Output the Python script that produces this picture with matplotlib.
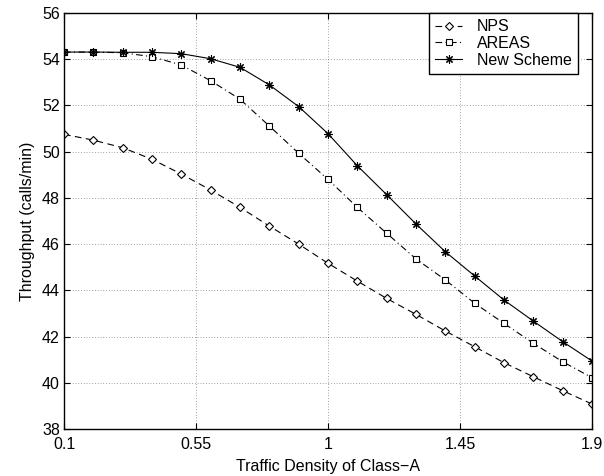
import matplotlib
matplotlib.use("Agg")
import matplotlib.pyplot as plt

plt.rcParams['font.family'] = ['Liberation Sans', 'DejaVu Sans']

density = [0.1, 0.2, 0.3, 0.4, 0.5, 0.6, 0.7, 0.8, 0.9, 1.0,
           1.1, 1.2, 1.3, 1.4, 1.5, 1.6, 1.7, 1.8, 1.9]

nps = [50.75, 50.50, 50.17, 49.67, 49.03, 48.34, 47.59, 46.78, 46.00, 45.17,
       44.40, 43.65, 42.96, 42.24, 41.56, 40.87, 40.26, 39.66, 39.08]
areas = [54.31, 54.31, 54.28, 54.11, 53.75, 53.07, 52.27, 51.11, 49.93, 48.80,
         47.59, 46.47, 45.36, 44.45, 43.44, 42.57, 41.71, 40.91, 40.22]
new_scheme = [54.31, 54.31, 54.30, 54.30, 54.24, 54.02, 53.65, 52.89, 51.95, 50.78,
              49.39, 48.14, 46.87, 45.67, 44.62, 43.58, 42.67, 41.78, 40.94]

xticks = [0.1, 0.55, 1, 1.45, 1.9]
xtick_labels = ["0.1", "0.55", "1", "1.45", "1.9"]

fs = 11.5

fig = plt.figure(figsize=(6.04, 4.76), dpi=100)
ax = fig.add_axes([64 / 604, 47 / 476, 528 / 604, 416 / 476])

ax.plot(density, nps, color='black', linestyle=(0, (6, 4)), linewidth=0.8,
        marker='D', markersize=4.5, markerfacecolor='white', markeredgewidth=0.8,
        label='NPS')
ax.plot(density, areas, color='black', linestyle=(0, (6, 3, 1, 3)), linewidth=0.8,
        marker='s', markersize=4.5, markerfacecolor='white', markeredgewidth=0.8,
        label='AREAS')
ax.plot(density, new_scheme, color='black', linestyle='-', linewidth=0.8,
        marker=(8, 2, 0), markersize=6, markeredgewidth=0.8,
        label='New Scheme')

ax.set_xlim(0.1, 1.9)
ax.set_ylim(38, 56)
ax.set_xticks(xticks)
ax.set_xticklabels(xtick_labels)
ax.set_yticks(range(38, 57, 2))
ax.tick_params(direction='in', top=True, right=True, labelsize=fs, length=4)
ax.tick_params(axis='x', pad=6)
ax.tick_params(axis='y', pad=3)
ax.grid(True, linestyle=(0, (1, 3)), color='black', linewidth=0.5, alpha=0.7)
for s in ax.spines.values():
    s.set_linewidth(1.0)

ax.set_xlabel("Traffic Density of Class\u2212A", fontsize=fs, labelpad=5)
ax.set_ylabel("Throughput (calls/min)", fontsize=fs, labelpad=5)

leg = ax.legend(loc='upper right', bbox_to_anchor=(578 / 604, 463 / 476),
                bbox_transform=fig.transFigure, fontsize=fs, fancybox=False,
                framealpha=1, edgecolor='black', borderaxespad=0, handlelength=1.7,
                handletextpad=0.9, borderpad=0.4, labelspacing=0.1)
leg.get_frame().set_linewidth(1.0)

fig.savefig("out.png", dpi=100)
